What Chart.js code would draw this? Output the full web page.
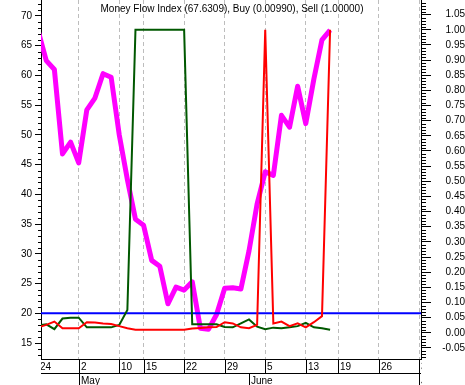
<!DOCTYPE html>
<html><head><meta charset="utf-8">
<script src="https://cdn.jsdelivr.net/npm/chart.js@4.4.1/dist/chart.umd.min.js"></script>
<style>html,body{margin:0;padding:0;background:#fff;}#wrap{width:465px;height:385px;}</style>
</head><body><div id="wrap"><canvas id="c" width="465" height="385"></canvas></div>
<script>
// ---- data ----
const dates = [
 '2006-04-24','2006-04-25','2006-04-26','2006-04-27','2006-04-28',
 '2006-05-02','2006-05-03','2006-05-04','2006-05-08','2006-05-09',
 '2006-05-10','2006-05-11','2006-05-12',
 '2006-05-15','2006-05-16','2006-05-17','2006-05-18','2006-05-19',
 '2006-05-22','2006-05-23','2006-05-24','2006-05-25','2006-05-26',
 '2006-05-29','2006-05-30','2006-05-31',
 '2006-06-01','2006-06-02',
 '2006-06-05','2006-06-07','2006-06-08','2006-06-09','2006-06-12',
 '2006-06-13','2006-06-14','2006-06-15','2006-06-16',
 '2006-06-19','2006-06-20','2006-06-21','2006-06-22','2006-06-23',
 '2006-06-26','2006-06-27','2006-06-28','2006-06-29','2006-06-30',
 '2006-07-03'
];
const mfi = [67.5,62.5,61.0,46.8,48.8,45.3,54.2,56.2,60.3,59.7,
             50.0,42.5,35.8,34.8,28.9,27.9,21.6,24.4,23.9,25.3,
             17.5,17.3,19.8,24.2,24.3,24.1,30.5,38.4,43.8,43.2,
             53.3,51.3,58.2,51.9,59.4,66.0,67.6309];
const buy = [0.025,0.028,0.012,0.047,0.050,0.050,0.018,0.018,0.018,0.018,
             0.026,0.075,1.0,1.0,1.0,1.0,1.0,1.0,1.0,0.028,
             0.028,0.028,0.028,0.019,0.018,0.031,0.044,0.020,0.012,0.017,
             0.015,0.018,0.022,0.033,0.018,0.015,0.0099];
const sell = [0.018,0.026,0.037,0.015,0.015,0.015,0.035,0.034,0.031,0.029,
              0.022,0.015,0.010,0.010,0.010,0.010,0.010,0.010,0.010,0.014,
              0.016,0.018,0.019,0.035,0.031,0.018,0.015,0.026,1.0,0.031,
              0.037,0.022,0.031,0.018,0.035,0.055,1.0];
const tickDates = ['2006-04-24','2006-05-02','2006-05-10','2006-05-15','2006-05-22',
                   '2006-05-29','2006-06-05','2006-06-13','2006-06-19','2006-06-26','2006-07-03'];
const leftTicks = [15,20,25,30,35,40,45,50,55,60,65,70];
const rightTicks = [-0.05,0,0.05,0.10,0.15,0.20,0.25,0.30,0.35,0.40,0.45,0.50,
                    0.55,0.60,0.65,0.70,0.75,0.80,0.85,0.90,0.95,1.00,1.05];
const monthNames = ['January','February','March','April','May','June','July',
                    'August','September','October','November','December'];
const oversoldLevel = 20;

// ---- build ----
const FONT = '"Liberation Sans", Arial, sans-serif';
Chart.defaults.font.family = FONT;
Chart.defaults.font.size = 10;
Chart.defaults.color = '#000';

const X_MIN = 0.35, X_MAX = 47.21;
const toXY = arr => arr.map((v, i) => ({x: i, y: v}));
const tickIdx = tickDates.map(d => dates.indexOf(d));
const title = 'Money Flow Index (' + mfi[mfi.length-1].toFixed(4) + '), Buy (' +
  buy[buy.length-1].toFixed(5) + '), Sell (' + sell[sell.length-1].toFixed(5) + ')';
const noPad = s => { s.paddingTop = 0; s.paddingBottom = 0; s.paddingLeft = 0; s.paddingRight = 0; };

const decor = {
  id: 'decor',
  afterDraw(chart) {
    const ctx = chart.ctx, ca = chart.chartArea;
    const xs = chart.scales.x, yl = chart.scales.y, yr = chart.scales.y1;
    ctx.save();
    ctx.strokeStyle = '#000'; ctx.lineWidth = 1;
    ctx.beginPath();
    for (let v = Math.ceil(yl.min); v <= yl.max; v++) {
      if (v % 5 === 0) continue;
      const py = Math.round(yl.getPixelForValue(v)) + 0.5;
      ctx.moveTo(yl.right - 3, py); ctx.lineTo(yl.right, py);
    }
    for (let k = Math.ceil(yr.min * 100); k <= Math.floor(yr.max * 100); k++) {
      if (k % 5 === 0) continue;
      const py = Math.round(yr.getPixelForValue(k / 100)) + 0.5;
      ctx.moveTo(yr.left, py); ctx.lineTo(yr.left + 5, py);
    }
    const top = xs.top;
    const rowY = Math.round(top + 14) + 0.5;
    ctx.moveTo(ca.left, rowY); ctx.lineTo(ca.right, rowY);
    ctx.stroke();
    ctx.restore();

    ctx.save();
    ctx.beginPath(); ctx.rect(ca.left, top, ca.right - ca.left + 1, 30); ctx.clip();
    ctx.strokeStyle = '#000'; ctx.lineWidth = 1; ctx.fillStyle = '#000';
    ctx.font = '10px ' + FONT; ctx.textAlign = 'left'; ctx.textBaseline = 'alphabetic';
    ctx.beginPath();
    tickIdx.forEach((i, n) => {
      const px = Math.round(xs.getPixelForValue(i)) + 0.5;
      ctx.moveTo(px, top); ctx.lineTo(px, top + 14);
      ctx.fillText(String(Number(tickDates[n].slice(8))), px + 1.5, top + 11);
    });
    for (let i = 1; i < dates.length; i++) {
      const m = Number(dates[i].slice(5, 7)), pm = Number(dates[i-1].slice(5, 7));
      if (m !== pm) {
        const px = Math.round(xs.getPixelForValue(i)) + 0.5;
        ctx.moveTo(px, top + 14); ctx.lineTo(px, top + 26);
        ctx.fillText(monthNames[m - 1], px + 1.5, top + 24.5);
      }
    }
    ctx.stroke();
    ctx.restore();

    ctx.save();
    ctx.font = '10px ' + FONT; ctx.fillStyle = '#000';
    ctx.textAlign = 'center'; ctx.textBaseline = 'alphabetic';
    ctx.fillText(title, (ca.left + ca.right) / 2 + 1, 12);
    ctx.restore();
  }
};

new Chart(document.getElementById('c'), {
  type: 'line',
  data: {
    datasets: [
      {label: 'Sell', data: toXY(sell), yAxisID: 'y1', borderColor: '#ff0000', borderWidth: 2},
      {label: 'Buy', data: toXY(buy), yAxisID: 'y1', borderColor: '#005800', borderWidth: 2},
      {label: 'Oversold', data: [{x: X_MIN, y: oversoldLevel}, {x: X_MAX, y: oversoldLevel}],
       yAxisID: 'y', borderColor: '#0000ff', borderWidth: 2},
      {label: 'Money Flow Index', data: toXY(mfi), yAxisID: 'y', borderColor: '#ff00ff',
       borderWidth: 5, borderJoinStyle: 'round'}
    ]
  },
  options: {
    responsive: false, devicePixelRatio: 1, animation: false,
    layout: {padding: 0},
    elements: {point: {radius: 0}, line: {tension: 0, fill: false}},
    datasets: {line: {clip: 0}},
    plugins: {legend: {display: false}, tooltip: {enabled: false}, title: {display: false}},
    scales: {
      x: {
        type: 'linear', position: 'bottom', min: X_MIN, max: X_MAX,
        afterBuildTicks: s => { s.ticks = tickIdx.map(v => ({value: v})); },
        afterFit: s => { s.height = 26; noPad(s); },
        ticks: {display: false, autoSkip: false},
        grid: {drawTicks: false, lineWidth: 1,
               color: c => (c.tick && c.tick.value >= X_MIN && c.tick.value <= X_MAX) ? '#bdbdbd' : 'rgba(0,0,0,0)'},
        border: {display: true, color: '#000', width: 1, dash: [4, 3]}
      },
      y: {
        type: 'linear', position: 'left', min: 12.314, max: 72.69,
        afterBuildTicks: s => { s.ticks = leftTicks.map(v => ({value: v})); },
        afterFit: s => { s.width = 41; noPad(s); },
        ticks: {autoSkip: false, padding: 3, font: {size: 10}, color: '#000',
                callback: v => String(v)},
        grid: {drawOnChartArea: false, drawTicks: true, tickLength: 6, tickColor: '#000', color: '#000'},
        border: {display: true, color: '#000', width: 1}
      },
      y1: {
        type: 'linear', position: 'right', min: -0.0865, max: 1.0983,
        afterBuildTicks: s => { s.ticks = rightTicks.map(v => ({value: v})); },
        afterFit: s => { s.width = 44; noPad(s); },
        ticks: {autoSkip: false, padding: 8, crossAlign: 'far', font: {size: 10}, color: '#000',
                callback: v => v.toFixed(2)},
        grid: {drawOnChartArea: false, drawTicks: true, tickLength: 10, tickColor: '#000', color: '#000'},
        border: {display: true, color: '#000', width: 1}
      }
    }
  },
  plugins: [decor]
});
</script>
</body></html>
